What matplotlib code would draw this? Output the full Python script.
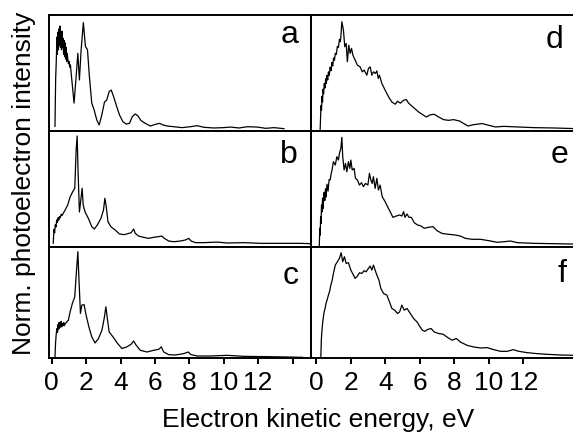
import matplotlib
matplotlib.use("Agg")
import matplotlib.pyplot as plt

plt.rcParams['font.family'] = ['Liberation Sans', 'DejaVu Sans']

# ---------------- data (energy in eV, normalised intensity) ----------------
a_E = [0.19, 0.23, 0.27, 0.30, 0.33, 0.36, 0.39, 0.42, 0.45, 0.48, 0.51, 0.54, 0.57, 0.60,
       0.63, 0.66, 0.69, 0.72, 0.75, 0.78, 0.81, 0.84, 0.87, 0.90, 0.94, 0.97, 1.01, 1.05,
       1.09, 1.13, 1.17, 1.30, 1.42, 1.52, 1.61, 1.71, 1.84, 1.96, 2.08, 2.19, 2.33, 2.47,
       2.62, 2.76, 2.91, 3.07, 3.20, 3.34, 3.46, 3.59, 3.75, 3.94, 4.14, 4.33, 4.52, 4.68,
       4.86, 5.01, 5.19, 5.44, 5.73, 6.02, 6.27, 6.47, 6.71, 7.09, 7.58, 8.06, 8.45, 8.84,
       9.42, 10.0, 10.4, 10.88, 11.37, 11.95, 12.44, 12.92, 13.5]
a_I = [0.04, 0.45, 0.62, 0.81, 0.66, 0.85, 0.70, 0.88, 0.74, 0.905, 0.72, 0.83, 0.70, 0.86,
       0.72, 0.80, 0.66, 0.78, 0.64, 0.76, 0.62, 0.72, 0.60, 0.67, 0.62, 0.58, 0.60, 0.55,
       0.57, 0.50, 0.44, 0.24, 0.47, 0.67, 0.44, 0.70, 0.934, 0.73, 0.70, 0.47, 0.24, 0.18,
       0.095, 0.052, 0.138, 0.25, 0.267, 0.34, 0.353, 0.30, 0.224, 0.138, 0.08, 0.06, 0.066, 0.123,
       0.147, 0.13, 0.09, 0.066, 0.043, 0.057, 0.066, 0.052, 0.043, 0.037, 0.029, 0.037, 0.046, 0.032,
       0.026, 0.029, 0.034, 0.026, 0.037, 0.034, 0.023, 0.029, 0.020]

b_E = [0.09, 0.13, 0.17, 0.21, 0.25, 0.29, 0.33, 0.37, 0.41, 0.45, 0.50, 0.55, 0.60, 0.78,
       0.93, 1.07, 1.22, 1.34, 1.42, 1.48, 1.53, 1.61, 1.69, 1.77, 1.83, 1.94, 2.13, 2.33,
       2.48, 2.66, 2.86, 3.01, 3.09, 3.17, 3.27, 3.44, 3.69, 3.94, 4.22, 4.47, 4.62, 4.76,
       4.86, 5.05, 5.34, 5.63, 5.92, 6.22, 6.39, 6.55, 6.80, 7.09, 7.48, 7.77, 7.97, 8.10,
       8.36, 8.84, 9.62, 10.2, 11.17, 12.15, 13.12, 14.48, 15.06]
b_I = [0.03, 0.15, 0.12, 0.19, 0.17, 0.23, 0.21, 0.25, 0.23, 0.26, 0.25, 0.28, 0.27, 0.317,
       0.36, 0.43, 0.475, 0.505, 0.836, 0.957, 0.663, 0.30, 0.40, 0.505, 0.36, 0.30, 0.245, 0.173,
       0.153, 0.19, 0.245, 0.317, 0.418, 0.346, 0.216, 0.173, 0.144, 0.11, 0.104, 0.115, 0.121, 0.153,
       0.115, 0.092, 0.081, 0.072, 0.081, 0.087, 0.092, 0.072, 0.049, 0.043, 0.049, 0.058, 0.072, 0.049,
       0.035, 0.035, 0.04, 0.032, 0.035, 0.029, 0.029, 0.029, 0.026]

c_E = [0.19, 0.22, 0.25, 0.28, 0.31, 0.34, 0.37, 0.40, 0.43, 0.46, 0.49, 0.52, 0.55, 0.58,
       0.62, 0.66, 0.70, 0.74, 0.78, 0.83, 0.90, 0.97, 1.07, 1.20, 1.34, 1.43, 1.52, 1.57,
       1.67, 1.75, 1.88, 2.00, 2.16, 2.33, 2.52, 2.72, 2.92, 3.05, 3.15, 3.22, 3.34, 3.59,
       3.83, 4.08, 4.37, 4.62, 4.76, 4.90, 5.15, 5.54, 5.92, 6.22, 6.37, 6.51, 6.80, 7.19,
       7.67, 7.93, 8.10, 8.46, 9.23, 10.2, 11.17, 12.54, 13.7, 14.58]
c_I = [0.01, 0.12, 0.19, 0.24, 0.265, 0.23, 0.30, 0.26, 0.32, 0.27, 0.31, 0.28, 0.33, 0.28,
       0.31, 0.29, 0.32, 0.29, 0.31, 0.315, 0.33, 0.34, 0.414, 0.49, 0.55, 0.76, 0.955, 0.76,
       0.40, 0.475, 0.48, 0.385, 0.28, 0.19, 0.135, 0.175, 0.25, 0.355, 0.46, 0.37, 0.234, 0.184,
       0.13, 0.085, 0.10, 0.124, 0.153, 0.117, 0.069, 0.054, 0.069, 0.078, 0.10, 0.054, 0.030, 0.027,
       0.039, 0.054, 0.030, 0.018, 0.018, 0.024, 0.015, 0.012, 0.009, 0.006]

d_E = [0.22, 0.25, 0.27, 0.30, 0.33, 0.36, 0.39, 0.42, 0.46, 0.50, 0.54, 0.58, 0.62, 0.66,
       0.70, 0.75, 0.80, 0.85, 0.90, 0.95, 1.00, 1.05, 1.10, 1.16, 1.22, 1.28, 1.34, 1.39,
       1.42, 1.48, 1.57, 1.65, 1.73, 1.80, 1.88, 1.96, 2.04, 2.12, 2.25, 2.38, 2.54, 2.66,
       2.77, 2.93, 3.02, 3.12, 3.22, 3.31, 3.43, 3.51, 3.59, 3.66, 3.80, 3.99, 4.19, 4.38,
       4.58, 4.71, 4.87, 5.06, 5.22, 5.35, 5.64, 5.93, 6.22, 6.38, 6.61, 6.84, 7.09, 7.38,
       7.67, 7.96, 8.31, 8.55, 8.80, 9.13, 9.62, 10.0, 10.39, 10.87, 11.65, 12.62, 13.78, 14.93]
d_I = [0.006, 0.14, 0.22, 0.18, 0.30, 0.25, 0.36, 0.32, 0.41, 0.37, 0.45, 0.41, 0.48, 0.44,
       0.51, 0.48, 0.55, 0.52, 0.59, 0.56, 0.63, 0.61, 0.67, 0.66, 0.73, 0.72, 0.79, 0.77,
       0.81, 0.942, 0.87, 0.726, 0.755, 0.597, 0.74, 0.669, 0.712, 0.654, 0.611, 0.568, 0.553, 0.51,
       0.525, 0.481, 0.539, 0.553, 0.481, 0.51, 0.496, 0.518, 0.453, 0.481, 0.41, 0.352, 0.294, 0.25,
       0.231, 0.257, 0.24, 0.265, 0.271, 0.24, 0.202, 0.164, 0.136, 0.121, 0.14, 0.144, 0.121, 0.098,
       0.092, 0.098, 0.086, 0.064, 0.043, 0.055, 0.064, 0.049, 0.035, 0.04, 0.035, 0.029, 0.026, 0.021]

e_E = [0.17, 0.20, 0.22, 0.25, 0.27, 0.30, 0.33, 0.36, 0.39, 0.41, 0.45, 0.49, 0.53, 0.56,
       0.62, 0.68, 0.74, 0.80, 0.86, 0.91, 0.99, 1.10, 1.19, 1.28, 1.34, 1.42, 1.48, 1.53,
       1.61, 1.69, 1.77, 1.86, 1.94, 2.00, 2.08, 2.19, 2.27, 2.38, 2.50, 2.62, 2.73, 2.85,
       2.99, 3.08, 3.16, 3.24, 3.31, 3.41, 3.51, 3.60, 3.70, 3.82, 3.99, 4.13, 4.28, 4.44,
       4.63, 4.83, 4.96, 5.06, 5.14, 5.26, 5.37, 5.51, 5.68, 5.87, 6.07, 6.26, 6.51, 6.77,
       7.00, 7.29, 7.67, 8.06, 8.35, 8.65, 9.03, 9.52, 10.0, 10.49, 10.87, 11.26, 11.65, 12.62,
       13.78, 14.93]
e_I = [0.005, 0.16, 0.10, 0.26, 0.20, 0.36, 0.30, 0.42, 0.33, 0.375, 0.47, 0.40, 0.50, 0.43,
       0.54, 0.48, 0.58, 0.577, 0.63, 0.663, 0.735, 0.706, 0.778, 0.749, 0.807, 0.85, 0.945, 0.778,
       0.663, 0.72, 0.648, 0.735, 0.677, 0.749, 0.663, 0.677, 0.591, 0.577, 0.533, 0.553, 0.519, 0.547,
       0.533, 0.634, 0.577, 0.547, 0.605, 0.504, 0.591, 0.49, 0.533, 0.432, 0.389, 0.346, 0.303, 0.254,
       0.265, 0.274, 0.265, 0.303, 0.254, 0.283, 0.254, 0.254, 0.207, 0.188, 0.179, 0.159, 0.168, 0.173,
       0.138, 0.115, 0.107, 0.101, 0.092, 0.072, 0.064, 0.064, 0.052, 0.038, 0.043, 0.049, 0.035, 0.029,
       0.026, 0.023]

f_E = [0.26, 0.29, 0.31, 0.34, 0.37, 0.41, 0.45, 0.50, 0.56, 0.62, 0.70, 0.77, 0.84, 0.92,
       0.99, 1.10, 1.22, 1.34, 1.44, 1.53, 1.63, 1.73, 1.86, 2.00, 2.15, 2.25, 2.38, 2.50,
       2.64, 2.77, 2.89, 3.02, 3.12, 3.22, 3.31, 3.41, 3.51, 3.63, 3.74, 3.90, 4.09, 4.24,
       4.38, 4.54, 4.71, 4.83, 4.96, 5.10, 5.26, 5.45, 5.64, 5.84, 5.99, 6.15, 6.30, 6.45,
       6.65, 6.84, 7.09, 7.35, 7.62, 7.87, 8.12, 8.35, 8.74, 9.13, 9.52, 9.91, 10.29, 10.68,
       11.07, 11.42, 11.74, 12.23, 12.81, 13.40, 14.17, 14.92]
f_I = [0.01, 0.16, 0.22, 0.27, 0.324, 0.37, 0.414, 0.44, 0.49, 0.52, 0.565, 0.60, 0.655, 0.70,
       0.76, 0.835, 0.865, 0.895, 0.946, 0.865, 0.91, 0.85, 0.856, 0.79, 0.745, 0.715, 0.736, 0.766,
       0.76, 0.784, 0.775, 0.805, 0.826, 0.79, 0.835, 0.79, 0.745, 0.70, 0.625, 0.58, 0.565, 0.505,
       0.445, 0.43, 0.40, 0.414, 0.475, 0.43, 0.445, 0.40, 0.355, 0.324, 0.286, 0.25, 0.24, 0.256,
       0.265, 0.234, 0.22, 0.214, 0.184, 0.16, 0.175, 0.144, 0.114, 0.099, 0.09, 0.093, 0.075, 0.06,
       0.06, 0.075, 0.06, 0.048, 0.039, 0.033, 0.027, 0.024]

panel_letters = ['a', 'b', 'c', 'd', 'e', 'f']
left_ticks = [0, 2, 4, 6, 8, 10, 12, 14]
left_ticklabels = ['0', '2', '4', '6', '8', '10', '12', '']
right_ticks = [0, 2, 4, 6, 8, 10, 12]
right_ticklabels = ['0', '2', '4', '6', '8', '10', '12']

# ---------------- layout ----------------
W, H = 573, 433
fig = plt.figure(figsize=(W / 100, H / 100), dpi=100)

rows_px = [(15, 131), (131, 246.7), (246.7, 358)]
cols_px = [(48.5, 311), (311, 576)]
xlims = [(-0.186, 15.07), (-0.31, 15.06)]

series = [[(a_E, a_I), (b_E, b_I), (c_E, c_I)],
          [(d_E, d_I), (e_E, e_I), (f_E, f_I)]]
letter_pos = [[(299, 43), (298, 163), (299, 284)],
              [(563, 48), (568, 163), (567, 282)]]

FS = 19
SPW = 1.4
for ci, (x0, x1) in enumerate(cols_px):
    for ri, (y0, y1) in enumerate(rows_px):
        ax = fig.add_axes([x0 / W, 1 - y1 / H, (x1 - x0) / W, (y1 - y0) / H])
        E, I = series[ci][ri]
        ax.plot(E, I, color='black', lw=0.9)
        ax.set_xlim(*xlims[ci])
        ax.set_ylim(0, 1)
        ax.set_yticks([])
        for s in ax.spines.values():
            s.set_linewidth(SPW)
        if ci == 1:
            ax.spines['right'].set_visible(False)
        if ri == 2:
            if ci == 0:
                ax.set_xticks(left_ticks)
                ax.set_xticklabels(left_ticklabels)
            else:
                ax.set_xticks(right_ticks)
                ax.set_xticklabels(right_ticklabels)
            ax.tick_params(axis='x', direction='out', length=4, width=SPW,
                           labelsize=FS, pad=5)
        else:
            ax.set_xticks([])
        lx, ly = letter_pos[ci][ri]
        fig.text(lx / W, 1 - ly / H, panel_letters[ci * 3 + ri], fontsize=23,
                 ha='right', va='baseline')

fig.text(318 / W, 1 - 427.5 / H, 'Electron kinetic energy, eV', fontsize=FS,
         ha='center', va='baseline')
fig.text(24 / W, 1 - 183 / H, 'Norm. photoelectron intensity', fontsize=FS,
         rotation=90, ha='center', va='center')

fig.savefig('out.png', dpi=100)
